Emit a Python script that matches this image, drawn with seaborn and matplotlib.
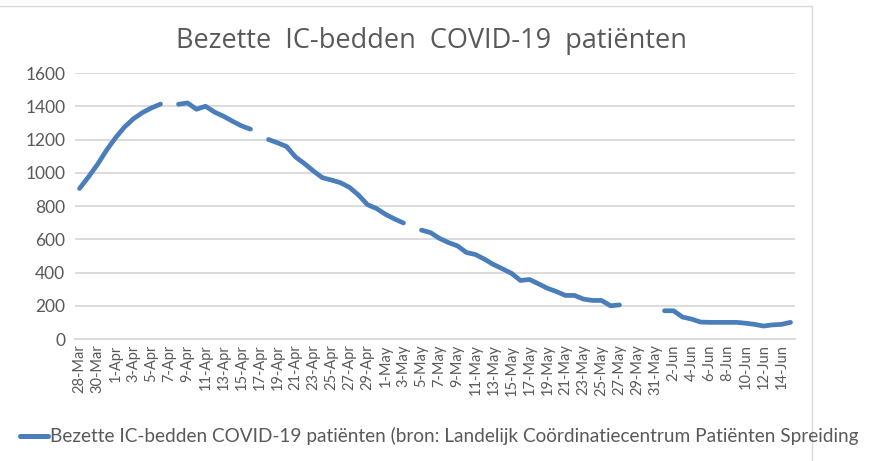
import numpy as np
import pandas as pd
import matplotlib
matplotlib.use("Agg")
import matplotlib.pyplot as plt
import seaborn as sns
from matplotlib import font_manager
from matplotlib.lines import Line2D

# daily categories 28-Mar .. 15-Jun (NaN = no data)
dates = pd.date_range("2020-03-28", "2020-06-15", freq="D")
ic_beds = [
    905, 975, 1050, 1135, 1210, 1275, 1325, 1362, 1390, 1413,
    np.nan, 1412, 1420, 1382, 1400, 1365, 1340, 1310, 1282, 1262,
    np.nan, 1200, 1180, 1158, 1095, 1055, 1010, 970, 956, 940,
    912, 866, 808, 785, 750, 722, 698, np.nan, 655, 640,
    605, 580, 560, 520, 508, 480, 448, 422, 395, 352,
    358, 332, 305, 285, 262, 262, 240, 232, 232, 200,
    205, np.nan, np.nan, np.nan, np.nan, 170, 170, 132, 120, 102,
    100, 100, 100, 100, 95, 88, 78, 85, 88, 100,
]
y_ticks = [0, 200, 400, 600, 800, 1000, 1200, 1400, 1600]

title = "Bezette  IC-bedden  COVID-19  patiënten"
series_name = ("Bezette IC-bedden COVID-19 patiënten (bron: Landelijk "
               "Coördinatiecentrum Patiënten Spreiding")

BLUE = "#4a7ebb"
GRID = "#d9d9d9"
TXT = "#595959"

df = pd.DataFrame({"x": np.arange(len(dates)), "beds": ic_beds})
# separate runs between gaps so lines break where data is missing
df["segment"] = df["beds"].isna().cumsum()
df = df.dropna()

sns.set_theme(style="white")
installed = {f.name for f in font_manager.fontManager.ttflist}
narrow = "Liberation Sans Narrow" if "Liberation Sans Narrow" in installed else "Lato"
plt.rcParams["font.family"] = ["Lato", "DejaVu Sans"]

fig = plt.figure(figsize=(8.69, 4.61), dpi=100)
ax = fig.add_axes([75 / 869, 122 / 461, 720 / 869, 266 / 461])

sns.lineplot(data=df, x="x", y="beds", units="segment", estimator=None,
             color=BLUE, linewidth=3.4, ax=ax, legend=False)

ax.set_xlim(-0.5, len(dates) - 0.5)
ax.set_ylim(0, 1600)
ax.set_yticks(y_ticks)
ax.set_yticklabels([str(v) for v in y_ticks], fontsize=12.5, color=TXT)
ax.yaxis.grid(True, color=GRID, linewidth=1.3)
ax.set_axisbelow(True)

major = np.arange(0, len(dates), 2)
ax.set_xticks(major)
ax.set_xticklabels([f"{d.day}-{d.strftime('%b')}" for d in dates[major]],
                   rotation=90, fontsize=10.5, color=TXT)
ax.set_xticks(np.arange(-0.5, len(dates), 2), minor=True)
ax.tick_params(axis="x", which="major", length=0, pad=4)
ax.tick_params(axis="x", which="minor", length=6, color=GRID, width=1.2)
ax.tick_params(axis="y", length=0, pad=7)
ax.set_xlabel("")
ax.set_ylabel("")
for side in ["top", "right", "left"]:
    ax.spines[side].set_visible(False)
ax.spines["bottom"].set_color(GRID)
ax.spines["bottom"].set_linewidth(1.3)

fig.text(431 / 869, 1 - 41 / 461, title, ha="center", va="center",
         fontsize=19.5, color=TXT, family=["Open Sans", "DejaVu Sans"])

# legend: blue stroke + long label, squeezed to the width seen in the image
fig.add_artist(Line2D([20 / 869, 48 / 869], [1 - 436 / 461] * 2,
                      color=BLUE, linewidth=3.6, transform=fig.transFigure))
leg = fig.text(50 / 869, 1 - 436 / 461, series_name, ha="left", va="center",
               fontsize=14, color=TXT, family=[narrow, "DejaVu Sans"])
fig.canvas.draw()
w = leg.get_window_extent().width
leg.set_fontsize(14 * 812 / w)

# chart border from the screenshot (right and top edge)
fig.add_artist(Line2D([812 / 869, 812 / 869], [0, 1 - 6 / 461], color=GRID,
                      linewidth=1, transform=fig.transFigure))
fig.add_artist(Line2D([0, 812 / 869], [1 - 6 / 461] * 2, color=GRID,
                      linewidth=1, transform=fig.transFigure))

fig.savefig("out.png", dpi=100)
